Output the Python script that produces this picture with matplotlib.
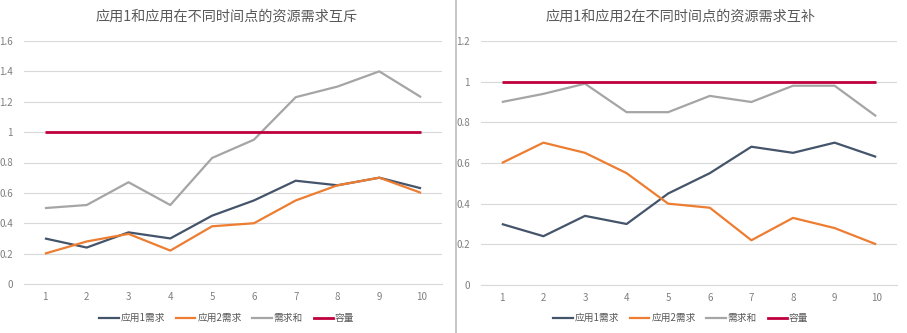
import matplotlib
matplotlib.use("Agg")
import matplotlib.pyplot as plt
from matplotlib.lines import Line2D

plt.rcParams['font.family'] = ['Noto Sans CJK SC', 'DejaVu Sans']

# Data
time_points = [1, 2, 3, 4, 5, 6, 7, 8, 9, 10]

# Left: mutually exclusive demands
excl_app1 = [0.30, 0.24, 0.34, 0.30, 0.45, 0.55, 0.68, 0.65, 0.70, 0.63]
excl_app2 = [0.20, 0.28, 0.33, 0.22, 0.38, 0.40, 0.55, 0.65, 0.70, 0.60]
excl_sum = [0.50, 0.52, 0.67, 0.52, 0.83, 0.95, 1.23, 1.30, 1.40, 1.23]
excl_cap = [1, 1, 1, 1, 1, 1, 1, 1, 1, 1]

# Right: complementary demands
comp_app1 = [0.30, 0.24, 0.34, 0.30, 0.45, 0.55, 0.68, 0.65, 0.70, 0.63]
comp_app2 = [0.60, 0.70, 0.65, 0.55, 0.40, 0.38, 0.22, 0.33, 0.28, 0.20]
comp_sum = [0.90, 0.94, 0.99, 0.85, 0.85, 0.93, 0.90, 0.98, 0.98, 0.83]
comp_cap = [1, 1, 1, 1, 1, 1, 1, 1, 1, 1]

series_names = ["应用1需求", "应用2需求", "需求和", "容量"]
series_colors = ["#44546A", "#ED7D31", "#A5A5A5", "#C0003C"]
series_widths = [1.6, 1.6, 1.6, 2.0]

W, H = 907, 333
fig = plt.figure(figsize=(W / 100, H / 100), dpi=100)


def draw_panel(rect, series, ymax, yticks, ytick_labels, title, title_x):
    ax = fig.add_axes([rect[0] / W, rect[1] / H, rect[2] / W, rect[3] / H])
    for vals, color, lw in zip(series, series_colors, series_widths):
        ax.plot(time_points, vals, color=color, linewidth=lw, solid_capstyle="butt")
    ax.set_xlim(0.5, 10.5)
    ax.set_ylim(0, ymax)
    ax.set_xticks(time_points)
    ax.set_xticklabels([str(t) for t in time_points])
    ax.set_yticks(yticks)
    ax.set_yticklabels(ytick_labels)
    ax.tick_params(axis="both", length=0, labelsize=7, labelcolor="#7F7F7F")
    ax.tick_params(axis="x", pad=6)
    ax.tick_params(axis="y", pad=8)
    ax.grid(axis="y", color="#D9D9D9", linewidth=0.8)
    ax.set_axisbelow(True)
    for side in ["top", "right", "left"]:
        ax.spines[side].set_visible(False)
    ax.spines["bottom"].set_color("#D9D9D9")
    ax.spines["bottom"].set_linewidth(0.8)
    fig.text(title_x / W, 1 - 17 / H, title, ha="center", va="center",
             fontsize=10.2, color="#595959")
    handles = [Line2D([0], [0], color=c, linewidth=lw)
               for c, lw in zip(series_colors, series_widths)]
    fig.legend(handles, series_names, loc="center",
               bbox_to_anchor=(title_x / W, 1 - 318 / H), ncol=4, frameon=False,
               fontsize=7, labelcolor="#595959", handlelength=2.0,
               handletextpad=0.2, columnspacing=1.1)
    return ax


draw_panel((24, 49, 418, 243),
           [excl_app1, excl_app2, excl_sum, excl_cap],
           1.6, [0, 0.2, 0.4, 0.6, 0.8, 1.0, 1.2, 1.4, 1.6],
           ["0", "0.2", "0.4", "0.6", "0.8", "1", "1.2", "1.4", "1.6"],
           "应用1和应用在不同时间点的资源需求互斥", 227)

draw_panel((481, 48, 416, 244),
           [comp_app1, comp_app2, comp_sum, comp_cap],
           1.2, [0, 0.2, 0.4, 0.6, 0.8, 1.0, 1.2],
           ["0", "0.2", "0.4", "0.6", "0.8", "1", "1.2"],
           "应用1和应用2在不同时间点的资源需求互补", 681)

# Separator between the two panels
fig.add_artist(Line2D([455.5 / W, 455.5 / W], [0, 1], color="#BFBFBF", linewidth=1.2))

fig.savefig("out.png", dpi=100)
